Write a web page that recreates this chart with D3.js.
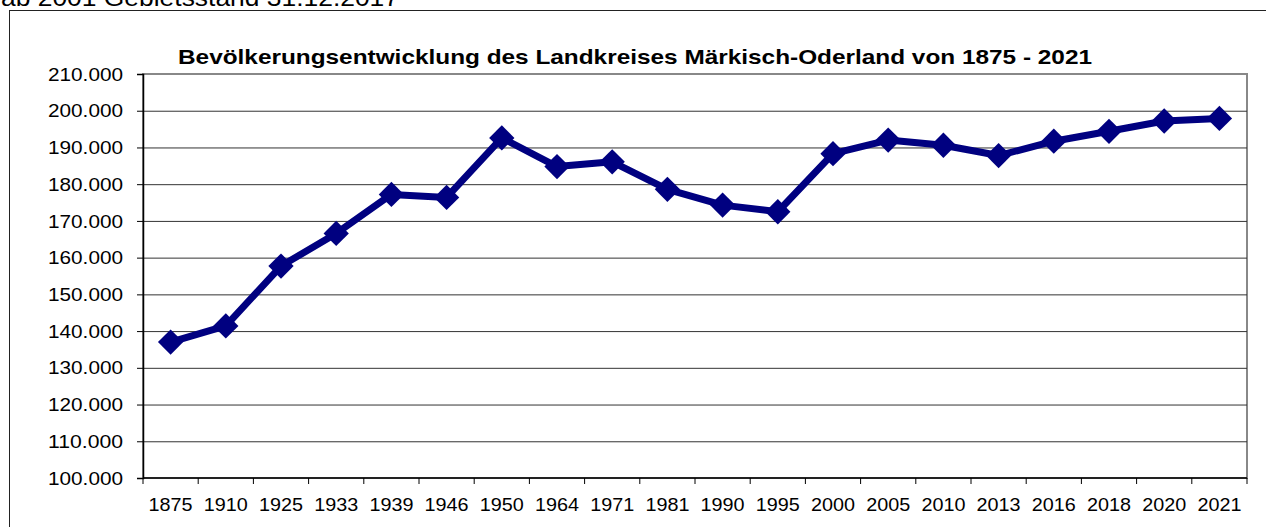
<!DOCTYPE html>
<html>
<head>
<meta charset="utf-8">
<script src="https://cdn.jsdelivr.net/npm/d3@7"></script>
<style>
  body { margin: 0; background: #fff; }
  text { font-family: "Liberation Sans", Arial, sans-serif; }
</style>
</head>
<body>
<script>
// Data
// =================================
let years = ['1875', '1910', '1925', '1933', '1939', '1946', '1950', '1964', '1971', '1981',
  '1990', '1995', '2000', '2005', '2010', '2013', '2016', '2018', '2020', '2021'];
let population = [137000, 141400, 157700, 166600, 177200, 176400, 192600, 184800, 186100, 178600,
  174300, 172500, 188300, 192000, 190600, 187800, 191700, 194400, 197200, 197900];
let yTicks = [100000, 110000, 120000, 130000, 140000, 150000, 160000, 170000, 180000, 190000, 200000, 210000];

// Set up our chart
// =================================
let svgWidth = 1266;
let svgHeight = 527;
let margin = { top: 74, right: 19, bottom: 49, left: 143 };
let width = svgWidth - margin.left - margin.right;
let height = svgHeight - margin.top - margin.bottom;

let svg = d3.select("body")
  .append("svg")
  .attr("width", svgWidth)
  .attr("height", svgHeight);

// caption, cut off at the top like in the original
svg.append("text")
  .attr("x", 1)
  .attr("y", 6)
  .attr("font-size", "23px")
  .attr("textLength", 398)
  .attr("lengthAdjust", "spacingAndGlyphs")
  .attr("fill", "#000")
  .text("ab 2001 Gebietsstand 31.12.2017");

// outer frame
svg.append("rect")
  .attr("x", 9.5)
  .attr("y", 10.5)
  .attr("width", 1300)
  .attr("height", 600)
  .attr("fill", "none")
  .attr("stroke", "#222")
  .attr("stroke-width", 1);

let chartGroup = svg.append("g")
  .attr("transform", `translate(${margin.left}, ${margin.top})`);

// Scales
// =================================
let xScale = d3.scaleBand()
  .domain(years)
  .range([0, width]);

let yScale = d3.scaleLinear()
  .domain([100000, 210000])
  .range([height, 0]);

let fmt = d => d3.format(",")(d).replace(/,/g, ".");

// plot area border (top / right)
chartGroup.append("rect")
  .attr("x", 0)
  .attr("y", 0)
  .attr("width", width)
  .attr("height", height)
  .attr("fill", "none")
  .attr("stroke", "#888")
  .attr("stroke-width", 2);

// gridlines
chartGroup.append("g")
  .attr("class", "grid")
  .call(d3.axisLeft(yScale)
    .tickValues(yTicks.slice(1, -1))
    .tickSize(-width)
    .tickFormat(""))
  .call(g => g.select(".domain").remove())
  .call(g => g.selectAll("line").attr("stroke", "#333").attr("stroke-width", 1));

// y axis
chartGroup.append("g")
  .call(d3.axisLeft(yScale)
    .tickValues(yTicks)
    .tickSize(6)
    .tickPadding(14)
    .tickFormat(fmt))
  .call(g => g.select(".domain").attr("stroke", "#000").attr("stroke-width", 1.5))
  .call(g => g.selectAll("text")
    .attr("font-size", "19px")
    .attr("textLength", 75)
    .attr("lengthAdjust", "spacingAndGlyphs")
    .attr("fill", "#000")
    .attr("font-family", "Liberation Sans, Arial, sans-serif"));

// x axis with ticks between categories
let xAxisG = chartGroup.append("g")
  .attr("transform", `translate(0, ${height})`);

xAxisG.append("line")
  .attr("x1", 0).attr("x2", width)
  .attr("stroke", "#000").attr("stroke-width", 1.5);

xAxisG.selectAll(".tick")
  .data(years.concat(["end"]))
  .enter()
  .append("line")
  .attr("x1", (d, i) => i * xScale.step())
  .attr("x2", (d, i) => i * xScale.step())
  .attr("y1", 0).attr("y2", 6)
  .attr("stroke", "#000");

xAxisG.selectAll(".lbl")
  .data(years)
  .enter()
  .append("text")
  .attr("x", d => xScale(d) + xScale.bandwidth() / 2)
  .attr("y", 33)
  .attr("text-anchor", "middle")
  .attr("font-size", "19px")
  .attr("textLength", 44)
  .attr("lengthAdjust", "spacingAndGlyphs")
  .attr("fill", "#000")
  .text(d => d);

// title
svg.append("text")
  .attr("x", 635)
  .attr("y", 64)
  .attr("text-anchor", "middle")
  .attr("font-size", "21px")
  .attr("textLength", 914)
  .attr("lengthAdjust", "spacingAndGlyphs")
  .attr("font-weight", "bold")
  .attr("fill", "#000")
  .text("Bevölkerungsentwicklung des Landkreises Märkisch-Oderland von 1875 - 2021");

// line
let line = d3.line()
  .x((d, i) => xScale(years[i]) + xScale.bandwidth() / 2)
  .y(d => yScale(d));

chartGroup.append("path")
  .datum(population)
  .attr("d", line)
  .attr("fill", "none")
  .attr("stroke", "#000080")
  .attr("stroke-width", 7)
  .attr("stroke-linejoin", "round");

// diamond markers
chartGroup.selectAll(".marker")
  .data(population)
  .enter()
  .append("path")
  .attr("class", "marker")
  .attr("d", d3.symbol().type(d3.symbolSquare).size(320))
  .attr("transform", (d, i) => `translate(${xScale(years[i]) + xScale.bandwidth() / 2}, ${yScale(d)}) rotate(45)`)
  .attr("fill", "#000080");
</script>
</body>
</html>
